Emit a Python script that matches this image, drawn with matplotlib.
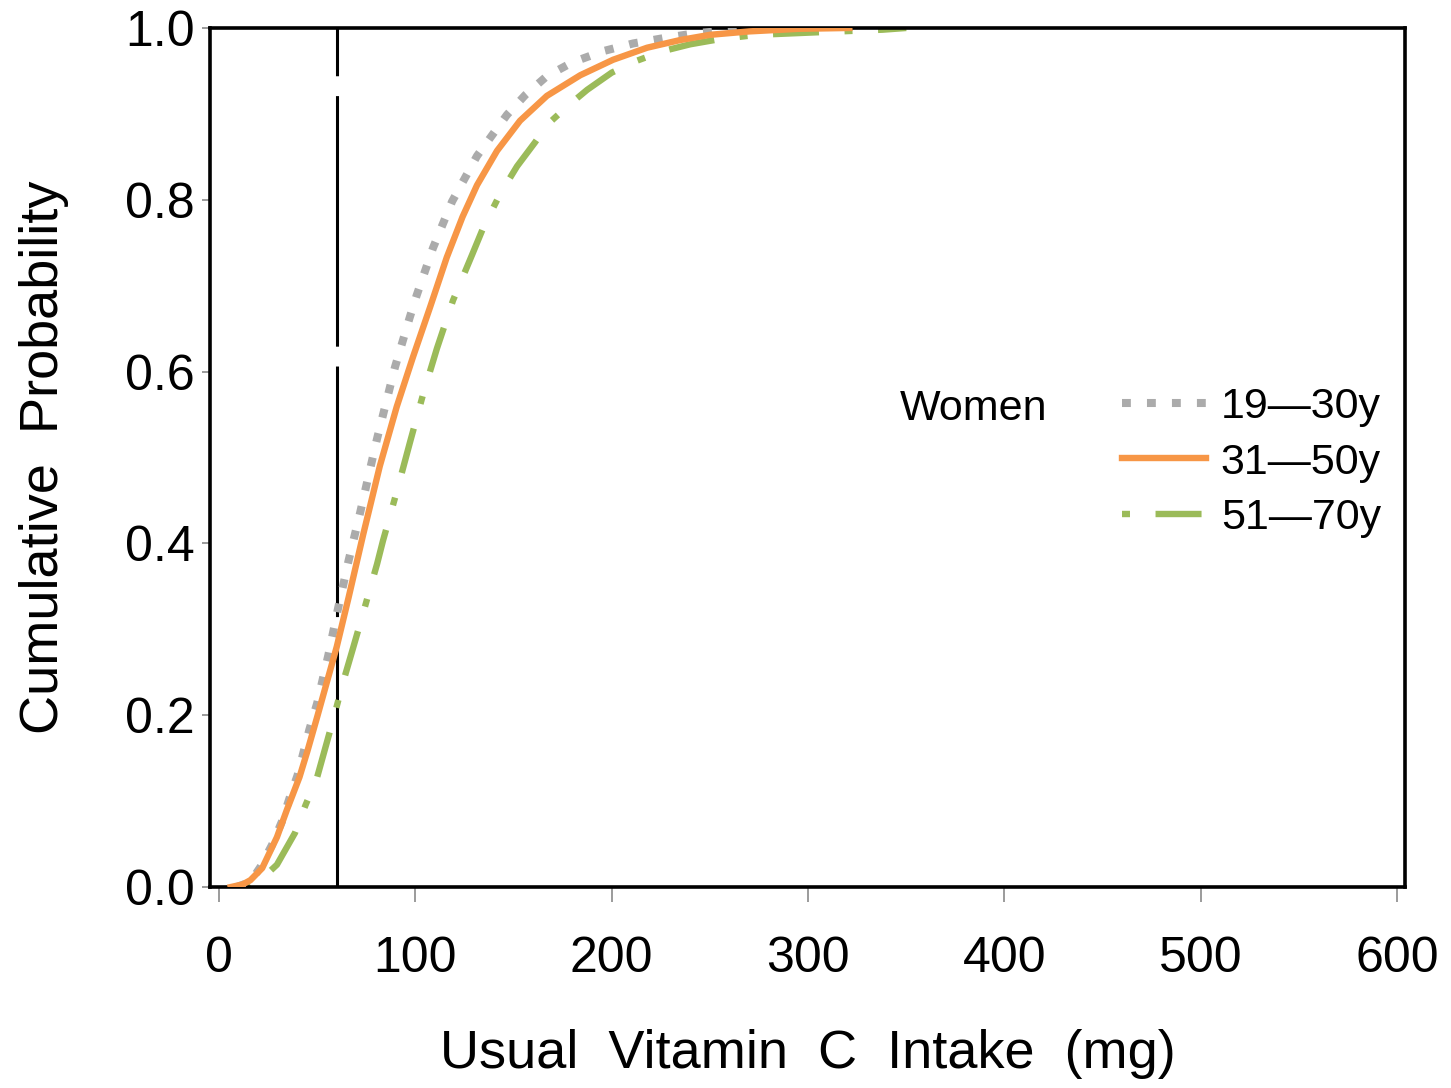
import numpy as np
import matplotlib
matplotlib.use("Agg")
import matplotlib.pyplot as plt
from matplotlib.lines import Line2D

plt.rcParams['font.family'] = ['Liberation Sans', 'DejaVu Sans']

# Kurven (Zufuhr in mg, kumulative Wahrscheinlichkeit)
x_19_30 = [9, 16, 21, 27, 32, 36, 40, 46, 50, 55.7, 60.6, 66, 71.8, 80.4, 89.6, 97,
           100.7, 109, 118.7, 131.4, 146.7, 156, 167, 180, 195.6, 211, 226, 243,
           259, 270]
p_19_30 = [0, 0.006, 0.023, 0.049, 0.076, 0.104, 0.13, 0.183, 0.214, 0.27, 0.324,
           0.38, 0.435, 0.521, 0.605, 0.662, 0.689, 0.744, 0.798, 0.851, 0.899,
           0.922, 0.944, 0.96, 0.973, 0.982, 0.988, 0.994, 0.997, 1.0]

x_31_50 = [6, 12, 16, 22, 29.5, 34.6, 41, 45, 50, 60, 66, 73.4, 81.9, 90.5, 98.8,
           107.5, 116, 124, 131.4, 141.6, 153.3, 167, 184, 200.7, 218, 235, 250,
           270, 295, 321]
p_31_50 = [0, 0.003, 0.008, 0.022, 0.058, 0.09, 0.128, 0.158, 0.198, 0.28, 0.337,
           0.41, 0.49, 0.559, 0.617, 0.675, 0.733, 0.78, 0.817, 0.857, 0.892,
           0.921, 0.945, 0.963, 0.977, 0.986, 0.992, 0.996, 0.999, 1.0]

x_51_70 = [12, 16, 22, 29.5, 38.7, 44, 50, 55, 59, 63, 68, 72.8, 77, 80.5, 83.5,
           90.5, 97.3, 104, 111, 119.2, 128.9, 134.5, 143, 151.8, 161, 167, 177,
           187.5, 200, 213, 226, 240, 255, 274, 305, 338, 350]
p_51_70 = [0, 0.004, 0.01, 0.026, 0.063, 0.095, 0.128, 0.169, 0.202, 0.237, 0.276,
           0.314, 0.348, 0.376, 0.403, 0.46, 0.518, 0.574, 0.627, 0.683, 0.736,
           0.767, 0.806, 0.839, 0.867, 0.887, 0.908, 0.928, 0.948, 0.962, 0.973,
           0.981, 0.987, 0.992, 0.995, 0.998, 1.0]

ear_x = 60  # Referenzlinie
labels = ['19\u201430y', '31\u201450y', '51\u201470y']
x_ticks = [0, 100, 200, 300, 400, 500, 600]
y_ticks = [0.0, 0.2, 0.4, 0.6, 0.8, 1.0]

col_grau = '#ABABAB'
col_orange = '#F79646'
col_gruen = '#9BBB59'

stil_grau = dict(color=col_grau, lw=5.8, linestyle=(0, (1.1, 2.0)),
                 dash_capstyle='butt')
stil_orange = dict(color=col_orange, lw=4.6, linestyle='-')
stil_gruen = dict(color=col_gruen, lw=4.6, linestyle=(0, (1.25, 4.0, 7.2, 4.0)),
                  dash_capstyle='butt')

fig = plt.figure(figsize=(14.51, 10.88), dpi=100)
ax = fig.add_axes([0.1447, 0.1847, 0.8236, 0.7896])

ax.plot([ear_x, ear_x], [0, 1], color='black', lw=2.2,
        linestyle=(0, (82, 6.5)), zorder=1)
ax.plot(x_19_30, p_19_30, zorder=3, **stil_grau)
ax.plot(x_51_70, p_51_70, zorder=2, **stil_gruen)
ax.plot(x_31_50, p_31_50, zorder=4, **stil_orange)

ax.set_xlim(-4.6, 604)
ax.set_ylim(0, 1)
ax.set_xticks(x_ticks)
ax.set_yticks(y_ticks)
ax.set_xticklabels([str(t) for t in x_ticks])
ax.set_yticklabels(['%.1f' % t for t in y_ticks])

for s in ax.spines.values():
    s.set_linewidth(2.6)
ax.tick_params(axis='x', length=11, width=1.1, color='#808080',
               labelsize=36, pad=24)
ax.tick_params(axis='y', length=6, width=1.1, color='#808080',
               labelsize=36, pad=5)

ax.set_xlabel('Usual  Vitamin  C  Intake  (mg)', fontsize=39, labelpad=34)
ax.set_ylabel('Cumulative  Probability', fontsize=39, labelpad=40)

handles = [Line2D([], [], **stil_grau), Line2D([], [], **stil_orange),
           Line2D([], [], **stil_gruen)]
ax.legend(handles, labels, loc='upper left', bbox_to_anchor=(0.763, 0.582),
          frameon=False, fontsize=31, handlelength=1.95, handletextpad=0.35,
          labelspacing=0.36, borderpad=0, borderaxespad=0)
ax.text(0.577, 0.557, 'Women', transform=ax.transAxes, fontsize=31,
        ha='left', va='center')

fig.savefig('out.png', dpi=100)
